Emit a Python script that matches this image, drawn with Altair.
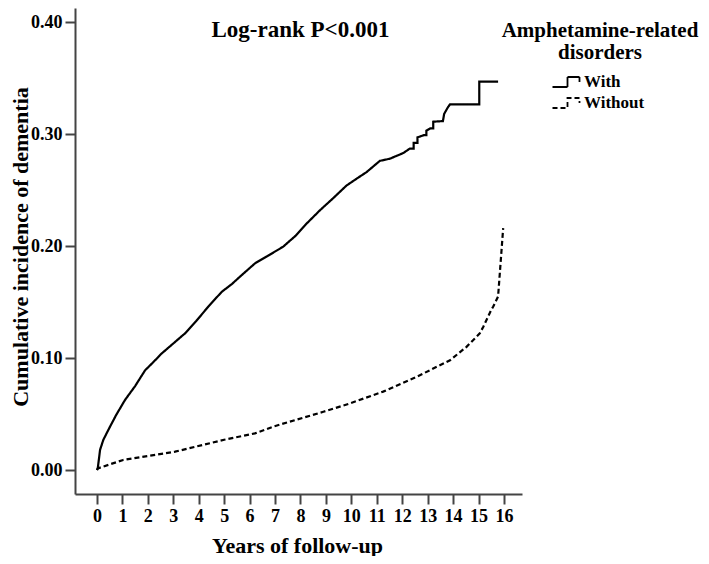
import altair as alt
import pandas as pd

# ---- data ----
with_years = [0, 0.03, 0.12, 0.25, 0.45, 0.75, 1.1, 1.5, 1.89, 2.2, 2.54, 3.0, 3.46, 3.9,
              4.38, 4.9, 5.3, 5.62, 6.21, 6.7, 7.32, 7.8, 8.24, 8.77, 9.3, 9.81, 10.2,
              10.6, 11.12, 11.52, 12.04, 12.3, 12.45, 12.45, 12.6, 12.6, 12.85, 12.95,
              12.95, 13.1, 13.22, 13.22, 13.6, 13.65, 13.8, 13.88, 15.03, 15.03, 15.77]
with_cum = [0, 0.0015, 0.018, 0.027, 0.036, 0.049, 0.0625, 0.075, 0.089, 0.096, 0.104,
            0.113, 0.122, 0.133, 0.146, 0.159, 0.166, 0.1726, 0.1845, 0.191, 0.1994,
            0.209, 0.220, 0.232, 0.243, 0.254, 0.260, 0.266, 0.276, 0.278, 0.283, 0.287,
            0.287, 0.292, 0.292, 0.297, 0.299, 0.299, 0.303, 0.305, 0.305, 0.311, 0.3115,
            0.318, 0.324, 0.3265, 0.3265, 0.3467, 0.3467]

without_years = [0, 0.03, 1.03, 3.07, 5.0, 6.21, 6.96, 8.9, 9.95, 11.25, 12.57, 13.88,
                 14.53, 15.05, 15.19, 15.5, 15.58, 15.77, 15.97]
without_cum = [0, 0.0015, 0.009, 0.0164, 0.027, 0.0327, 0.039, 0.052, 0.0595, 0.070,
               0.0833, 0.098, 0.110, 0.122, 0.128, 0.143, 0.146, 0.155, 0.216]

groups = ["With", "Without"]
x_ticks = list(range(0, 17))
y_ticks = [0.0, 0.1, 0.2, 0.3, 0.4]

annot_text = ["Log-rank P<0.001"]
annot_years = [8.0]
annot_cum = [0.3869]

rows = []
for i, (t, v) in enumerate(zip(with_years, with_cum)):
    rows.append({"group": groups[0], "years": t, "cum": v, "idx": i})
for i, (t, v) in enumerate(zip(without_years, without_cum)):
    rows.append({"group": groups[1], "years": t, "cum": v, "idx": i})
df = pd.DataFrame(rows)
annot_df = pd.DataFrame({"label": annot_text, "years": annot_years, "cum": annot_cum})

FONT = "Liberation Serif"
step_path = "M-1.45,0.5 L0.05,0.5 L0.05,-0.5 L1.25,-0.5 L1.25,0"

x_scale = alt.Scale(domain=[-0.865, 16.71], nice=False, zero=False)
y_scale = alt.Scale(domain=[-0.0214, 0.4125], nice=False, zero=False)

x_axis = alt.Axis(title="Years of follow-up", values=x_ticks, format="d",
                  labelOverlap=False, labelFlush=False,
                  titleX=222, titleY=58, titleBaseline="alphabetic",
                  titleAlign="center")
y_axis = alt.Axis(title="Cumulative incidence of dementia", values=y_ticks,
                  format=".2f", titleAngle=270, titleX=-48, titleY=238.5,
                  titleBaseline="alphabetic", titleAlign="center")

lines = alt.Chart(df).mark_line(color="black", strokeWidth=2.2).encode(
    x=alt.X("years:Q", scale=x_scale, axis=x_axis),
    y=alt.Y("cum:Q", scale=y_scale, axis=y_axis),
    strokeDash=alt.StrokeDash(
        "group:N",
        scale=alt.Scale(domain=groups, range=[[1, 0], [5, 3]]),
        legend=alt.Legend(
            title=["Amphetamine-related", "disorders"],
            orient="none", legendX=427, legendY=12,
            symbolType=step_path, symbolSize=400, symbolStrokeWidth=1.8,
            symbolStrokeColor="black", symbolFillColor="transparent",
            labelOffset=6, rowPadding=1, padding=0,
        ),
    ),
    order="idx:Q",
)

annot = alt.Chart(annot_df).mark_text(
    font=FONT, fontSize=23, fontWeight="bold", color="black",
    align="center", baseline="alphabetic",
).encode(
    x=alt.X("years:Q", scale=x_scale, axis=x_axis),
    y=alt.Y("cum:Q", scale=y_scale, axis=y_axis),
    text="label:N",
)

chart = alt.layer(lines, annot).properties(
    width=447, height=486,
    padding={"left": 67, "top": 0, "right": 179, "bottom": 62},
    autosize=alt.AutoSizeParams(type="none"),
).configure_view(stroke=None).configure_axis(
    grid=False,
    domainColor="#444", domainWidth=2, tickColor="#444", tickWidth=2, tickSize=10,
    labelFont=FONT, labelFontSize=18, labelFontWeight="bold", labelColor="black",
    titleFont=FONT, titleFontSize=22, titleFontWeight="bold", titleColor="black",
    labelPadding=3,
).configure_legend(
    titleFont=FONT, titleFontSize=21, titleFontWeight="bold", titleColor="black",
    titleAlign="center", titleAnchor="middle", titleLineHeight=22, titlePadding=8,
    titleLimit=400,
    labelFont=FONT, labelFontSize=17, labelFontWeight="bold", labelColor="black",
)

chart.save("out.html", embed_options={"renderer": "svg", "actions": False})
